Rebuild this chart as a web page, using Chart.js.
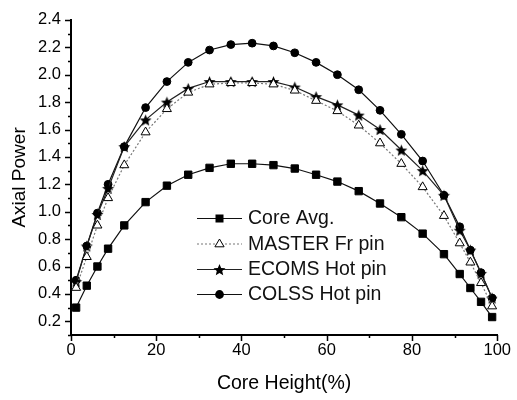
<!DOCTYPE html>
<html>
<head>
<meta charset="utf-8">
<script src="https://cdn.jsdelivr.net/npm/chart.js@4.4.1/dist/chart.umd.min.js"></script>
<style>
  body { margin: 0; background: #fff; }
  #wrap { width: 517px; height: 400px; }
</style>
</head>
<body>
<div id="wrap"><canvas id="mycanvas1" width="517" height="400"></canvas></div>
<script>
// core height (%) of each node
var heights = [1.2, 3.7, 6.2, 8.7, 12.5, 17.5, 22.5, 27.5, 32.5, 37.5, 42.5, 47.5,
	52.5, 57.5, 62.5, 67.5, 72.5, 77.5, 82.5, 87.5, 91.2, 93.7, 96.2, 98.8];

var coreAvg = [0.30, 0.46, 0.60, 0.73, 0.90, 1.07, 1.19, 1.27, 1.32, 1.35, 1.35, 1.34,
	1.315, 1.27, 1.22, 1.15, 1.06, 0.96, 0.84, 0.69, 0.545, 0.443, 0.342, 0.231];
var masterFr = [0.445, 0.67, 0.90, 1.10, 1.34, 1.58, 1.75, 1.87, 1.93, 1.94, 1.94, 1.93,
	1.885, 1.81, 1.735, 1.63, 1.50, 1.35, 1.18, 0.97, 0.77, 0.63, 0.48, 0.31];
var ecomsHot = [0.49, 0.75, 0.98, 1.17, 1.475, 1.67, 1.80, 1.90, 1.95, 1.95, 1.95, 1.95,
	1.91, 1.84, 1.78, 1.705, 1.60, 1.45, 1.30, 1.12, 0.865, 0.72, 0.55, 0.37];
var colssHot = [0.50, 0.75, 0.99, 1.20, 1.475, 1.76, 1.95, 2.09, 2.18, 2.22, 2.23, 2.21,
	2.16, 2.09, 2.00, 1.89, 1.74, 1.565, 1.37, 1.12, 0.89, 0.72, 0.555, 0.37];

var seriesLabels = ["Core Avg.", "MASTER Fr pin", "ECOMS Hot pin", "COLSS Hot pin"];

var FONT = "'Liberation Sans', Arial, Helvetica, sans-serif";

function pairs(ys) {
	var out = [];
	for (var i in heights) {
		out.push({x: heights[i], y: ys[i]});
	}
	return out;
}

// filled five point star used as marker
function makeStar(r) {
	var c = document.createElement("canvas");
	var s = Math.ceil(r * 2 + 2);
	c.width = s; c.height = s;
	var g = c.getContext("2d");
	g.fillStyle = "#000";
	g.beginPath();
	for (var k = 0; k < 10; k++) {
		var rr = k % 2 === 0 ? r : r * 0.45;
		var a = -Math.PI / 2 + k * Math.PI / 5;
		var px = s / 2 + Math.cos(a) * rr, py = s / 2 + 0.7 + Math.sin(a) * rr;
		if (k === 0) g.moveTo(px, py); else g.lineTo(px, py);
	}
	g.closePath();
	g.fill();
	return c;
}
var starImg = makeStar(6.3);

function drawMarker(ctx, kind, x, y) {
	ctx.save();
	ctx.fillStyle = "#000";
	ctx.strokeStyle = "#000";
	ctx.lineWidth = 1;
	if (kind === "rect") {
		ctx.fillRect(x - 4, y - 4, 8, 8);
	} else if (kind === "circle") {
		ctx.beginPath(); ctx.arc(x, y, 4.4, 0, Math.PI * 2); ctx.fill();
	} else if (kind === "triangle") {
		ctx.fillStyle = "#fff";
		ctx.beginPath();
		ctx.moveTo(x, y - 5);
		ctx.lineTo(x + 4.6, y + 2.8);
		ctx.lineTo(x - 4.6, y + 2.8);
		ctx.closePath(); ctx.fill(); ctx.stroke();
	} else {
		ctx.drawImage(starImg, x - starImg.width / 2, y - starImg.height / 2);
	}
	ctx.restore();
}

// short tick marks outside the axes (minor ones shorter)
var tickMarks = {
	id: "tickMarks",
	afterDraw: function(chart) {
		var ctx = chart.ctx, xs = chart.scales.x, ys = chart.scales.y;
		ctx.save();
		ctx.strokeStyle = "#000";
		ctx.lineWidth = 1.5;
		ctx.beginPath();
		xs.ticks.forEach(function(t) {
			var px = Math.round(xs.getPixelForValue(t.value)) + 0.5;
			var len = Math.round(t.value) % 20 === 0 ? 6 : 3;
			ctx.moveTo(px, xs.top); ctx.lineTo(px, xs.top + len);
		});
		ys.ticks.forEach(function(t) {
			var py = Math.round(ys.getPixelForValue(t.value)) + 0.5;
			var len = Math.round(t.value * 10) % 2 === 0 ? 6 : 3;
			ctx.moveTo(ys.right, py); ctx.lineTo(ys.right - len, py);
		});
		ctx.stroke();
		ctx.restore();
	}
};

// legend drawn as line - marker - line, like the original figure
var lineLegend = {
	id: "lineLegend",
	afterDatasetsDraw: function(chart) {
		var ctx = chart.ctx;
		var x0 = 197, x1 = 242, xm = 219.5, xt = 248;
		var rows = [218, 243.5, 269, 294];
		var kinds = ["rect", "triangle", "star", "circle"];
		ctx.save();
		ctx.font = "19.5px " + FONT;
		ctx.textBaseline = "middle";
		ctx.fillStyle = "#111";
		chart.data.datasets.forEach(function(ds, i) {
			ctx.save();
			ctx.strokeStyle = ds.borderColor;
			ctx.lineWidth = 1.2;
			ctx.setLineDash(ds.borderDash || []);
			ctx.beginPath();
			ctx.moveTo(x0, rows[i] + 0.5); ctx.lineTo(x1, rows[i] + 0.5);
			ctx.stroke();
			ctx.restore();
			drawMarker(ctx, kinds[i], xm, rows[i] + 0.5);
			ctx.fillText(seriesLabels[i], xt, rows[i] + 1);
		});
		ctx.restore();
	}
};

var chartdata = {
	datasets: [
		{
			label: seriesLabels[0],
			data: pairs(coreAvg),
			borderColor: "#111",
			backgroundColor: "#000",
			borderWidth: 1.2,
			pointStyle: "rect",
			pointRadius: 5.2,
			pointBorderWidth: 1,
			pointBorderColor: "#000"
		},
		{
			label: seriesLabels[1],
			data: pairs(masterFr),
			borderColor: "#777",
			borderDash: [2, 2],
			backgroundColor: "#fff",
			borderWidth: 1.2,
			pointStyle: "triangle",
			pointRadius: 5.2,
			pointBorderWidth: 1,
			pointBorderColor: "#000"
		},
		{
			label: seriesLabels[2],
			data: pairs(ecomsHot),
			borderColor: "#222",
			backgroundColor: "#000",
			borderWidth: 1.2,
			pointStyle: starImg
		},
		{
			label: seriesLabels[3],
			data: pairs(colssHot),
			borderColor: "#111",
			backgroundColor: "#000",
			borderWidth: 1.2,
			pointStyle: "circle",
			pointRadius: 3.9,
			pointBorderWidth: 1,
			pointBorderColor: "#000"
		}
	]
};

var ctx = document.getElementById("mycanvas1");

var LineGraph = new Chart(ctx, {
	type: "line",
	data: chartdata,
	plugins: [tickMarks, lineLegend],
	options: {
		responsive: false,
		animation: false,
		devicePixelRatio: 1,
		layout: { padding: { top: 18, right: 15, left: 0, bottom: 0 } },
		plugins: {
			legend: { display: false },
			tooltip: { enabled: false }
		},
		scales: {
			x: {
				type: "linear",
				min: 0,
				max: 100,
				afterFit: function(s) { s.height = 65; },
				grid: { display: false, drawTicks: false },
				border: { display: true, color: "#000", width: 2 },
				ticks: {
					stepSize: 10,
					padding: 6,
					color: "#000",
					font: { family: FONT, size: 16.5 },
					maxRotation: 0,
					autoSkip: false,
					callback: function(v) { return Math.round(v) % 20 === 0 ? String(Math.round(v)) : ""; }
				},
				title: {
					display: true,
					text: "Core Height(%)",
					color: "#000",
					font: { family: FONT, size: 19.5 },
					padding: { top: 4, bottom: 5 }
				}
			},
			y: {
				min: 0.1,
				max: 2.4,
				afterFit: function(s) { s.width = 71; },
				grid: { display: false, drawTicks: false },
				border: { display: true, color: "#000", width: 2 },
				ticks: {
					stepSize: 0.1,
					padding: 10,
					color: "#000",
					font: { family: FONT, size: 16.5 },
					autoSkip: false,
					callback: function(v) { return Math.round(v * 10) % 2 === 0 ? v.toFixed(1) : ""; }
				},
				title: {
					display: true,
					text: "Axial Power",
					color: "#000",
					font: { family: FONT, size: 19 },
					padding: { top: 8, bottom: 4 }
				}
			}
		}
	}
});
</script>
</body>
</html>
